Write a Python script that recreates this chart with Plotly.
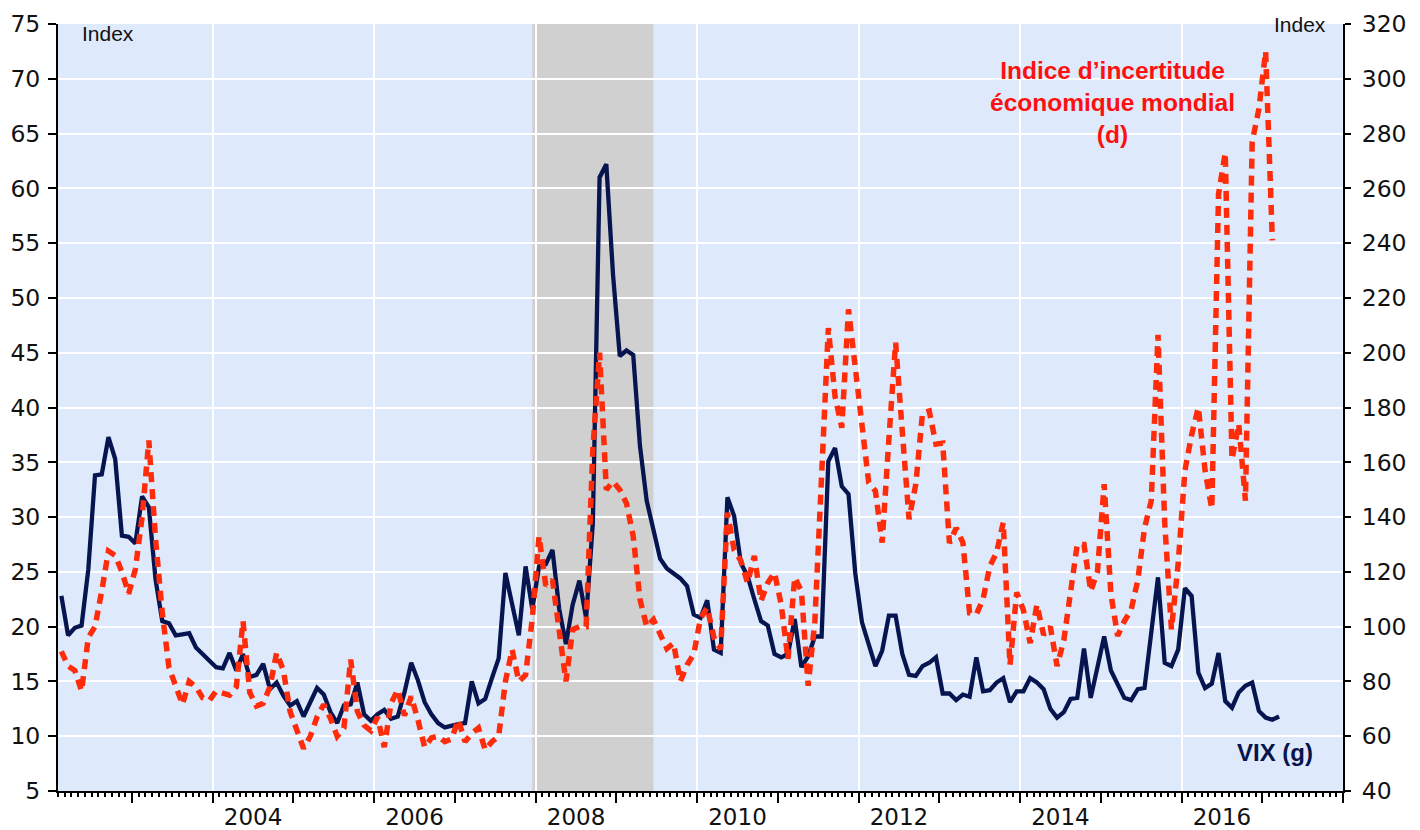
import plotly.graph_objects as go

# ---------------- data (monthly) ----------------
VIX_START = (2002, 2)      # first month of VIX series
GEPU_START = (2002, 2)     # first month of uncertainty index

vix = [
    22.8, 19.2, 19.9, 20.1, 25.2, 33.8, 33.9, 37.3, 35.3, 28.3, 28.2,
    27.6, 31.9, 30.9, 24.3, 20.5, 20.3, 19.2, 19.3, 19.4, 18.1, 17.5, 16.9,
    16.3, 16.2, 17.6, 16.0, 17.5, 15.4, 15.6, 16.6, 14.3, 14.9, 13.7, 12.8,
    13.2, 11.8, 13.2, 14.4, 13.8, 12.2, 11.2, 12.8, 12.9, 14.9, 12.0, 11.4,
    12.0, 12.4, 11.6, 11.8, 14.0, 16.7, 15.1, 13.1, 12.0, 11.2, 10.8, 11.0,
    11.1, 11.2, 15.0, 13.0, 13.4, 15.3, 17.1, 24.9, 22.0, 19.2, 25.5, 21.6,
    25.5, 25.7, 27.0, 21.6, 18.4, 22.0, 24.2, 20.8, 29.5, 61.0, 62.2, 52.1,
    44.7, 45.2, 44.8, 36.5, 31.5, 28.7, 26.2, 25.3, 24.9, 24.4, 23.7, 21.1,
    20.8, 22.4, 17.9, 17.6, 31.8, 30.1, 25.8, 24.6, 22.5, 20.5, 20.1, 17.5,
    17.2, 17.5, 20.7, 16.3, 17.3, 19.1, 19.1, 35.1, 36.3, 32.8, 32.1, 24.9,
    20.4, 18.4, 16.4, 17.8, 21.0, 21.0, 17.5, 15.6, 15.5, 16.4, 16.7, 17.2,
    13.9, 13.9, 13.3, 13.8, 13.6, 17.2, 14.1, 14.2, 14.9, 15.3, 13.1, 14.1,
    14.1, 15.3, 14.9, 14.3, 12.5, 11.7, 12.2, 13.4, 13.5, 18.0, 13.5, 16.3,
    19.1, 16.0, 14.7, 13.5, 13.3, 14.3, 14.4, 19.4, 24.5, 16.7, 16.4, 17.9,
    23.5, 22.8, 15.8, 14.4, 14.8, 17.6, 13.2, 12.6, 14.0, 14.6, 14.9, 12.3,
    11.7, 11.5, 11.8,
]

gepu = [
    91, 85.6, 84, 76.5, 96, 100, 113, 127.6, 126, 120, 112,
    121, 140, 168, 132, 105, 85, 78, 71.6, 80, 78, 74, 73,
    76.5, 76, 75, 78, 102, 76, 71, 72, 78, 90.5, 84, 69,
    62.5, 55.5, 60, 67, 71.6, 66.5, 60, 63, 88, 69, 64, 62,
    67, 56, 72, 77, 67.5, 74.5, 66, 56, 59.4, 60, 58, 59,
    66, 58, 61, 63, 55, 58, 60, 80, 91.6, 80, 82.4, 103,
    133, 115, 117, 97, 80, 99, 100, 100, 165, 200, 150, 153,
    150, 145, 133, 110, 100, 102.6, 97, 92, 94, 80, 86, 90,
    103, 107, 96, 91.7, 141.6, 128, 124, 116, 125.8, 109.4, 116, 119.7,
    108, 88, 118, 113, 78.4, 102, 155, 209, 184, 172.6, 215.8, 195,
    177, 152.6, 149.5, 130.7, 168.4, 203.7, 171, 139.2, 152, 178, 178.7, 166.6,
    167, 130.5, 136, 130.7, 105, 104.5, 110, 122, 127, 138, 86, 112.5,
    106, 94, 108, 97, 100, 85.6, 95, 112, 130, 130, 113, 120,
    152, 112, 96.6, 102, 106, 117, 136, 146, 206.5, 138, 99, 123,
    157, 170, 180, 157, 143, 258, 273, 161, 174, 146, 277, 289,
    310, 241,
]

year_labels = ["2004", "2006", "2008", "2010", "2012", "2014", "2016"]
recession = [(2007, 12), (2009, 6)]       # shaded period (first, last month)
x_range_months = [(2002, 2), (2017, 12)]  # first and last monthly slot shown

# ---------------- helpers ----------------
def slot_start(ym):
    y, m = ym
    return y + (m - 1) / 12.0

def slot_center(ym):
    return slot_start(ym) + 1 / 24.0

def series_x(start, n):
    s = slot_center(start)
    return [s + i / 12.0 for i in range(n)]

x_vix = series_x(VIX_START, len(vix))
x_gepu = series_x(GEPU_START, len(gepu))

x0 = slot_start(x_range_months[0])
x1 = slot_start(x_range_months[1]) + 1 / 12.0
xr = [x0, x1]
label_years = [int(s) for s in year_labels]
year_starts = list(range(int(x0) + 1, int(round(x1)) + 1))

NAVY = "#06154F"
RED = "#FF2C0C"
FONT = "Liberation Sans, Arial, sans-serif"
NUMFONT = "DejaVu Sans, Liberation Sans, sans-serif"

fig = go.Figure()

fig.add_trace(go.Scatter(
    x=x_vix, y=vix, mode="lines", name="VIX (g)",
    line=dict(color=NAVY, width=4.3), xaxis="x", yaxis="y",
    showlegend=False, hoverinfo="skip"))

fig.add_trace(go.Scatter(
    x=x_gepu, y=gepu, mode="lines", name="Indice d’incertitude économique mondial (d)",
    line=dict(color=RED, width=5.5, dash="10px,7px"), xaxis="x2", yaxis="y2",
    showlegend=False, hoverinfo="skip"))

fig.add_shape(type="rect", xref="x", yref="y",
              x0=slot_center(recession[0]), x1=slot_center(recession[1]),
              y0=5, y1=75, fillcolor="#D0D0D0", line=dict(width=0), layer="below")

tickfont = dict(family=NUMFONT, size=23.5, color="#111111")
xtickfont = dict(family=NUMFONT, size=23, color="#111111")

fig.update_layout(
    width=1420, height=830, autosize=False,
    margin=dict(l=50, r=85, t=16, b=47, autoexpand=False),
    paper_bgcolor="white", plot_bgcolor="#DEEAFB",
    showlegend=False,
    font=dict(family=FONT),
    xaxis=dict(
        range=xr, tickmode="array", automargin=False,
        tickvals=[y + 0.5 for y in label_years], ticktext=year_labels,
        ticks="outside", ticklen=4, tickcolor="rgba(0,0,0,0)",
        showgrid=False, zeroline=False,
        showline=True, linecolor="black", linewidth=2,
        tickfont=xtickfont,
        minor=dict(tickmode="array", tickvals=year_starts, ticks="outside",
                   ticklen=10, tickwidth=2, tickcolor="black", showgrid=False),
    ),
    xaxis2=dict(
        range=xr, overlaying="x", anchor="y2", side="bottom", automargin=False,
        tickmode="array", tickvals=label_years, showticklabels=False, ticks="",
        showgrid=True, gridcolor="white", gridwidth=1.6,
        zeroline=False, showline=False,
        minor=dict(tick0=x0, dtick=1 / 12.0, ticks="outside", ticklen=5,
                   tickwidth=1.5, tickcolor="black", showgrid=False),
    ),
    yaxis=dict(
        range=[5, 75], tick0=5, dtick=5, ticks="outside", ticklen=8,
        tickwidth=2, tickcolor="black", automargin=False, ticklabelstandoff=3,
        showline=True, linecolor="black", linewidth=2,
        showgrid=True, gridcolor="white", gridwidth=1.6, zeroline=False,
        tickfont=tickfont,
    ),
    yaxis2=dict(
        range=[40, 320], tick0=40, dtick=20, overlaying="y", side="right",
        anchor="x2", ticks="outside", ticklen=6, tickwidth=2, tickcolor="black",
        automargin=False, ticklabelstandoff=6,
        showline=True, linecolor="black", linewidth=2,
        showgrid=False, zeroline=False, tickfont=tickfont,
    ),
)

fig.add_annotation(text="Index", xref="paper", yref="paper", x=0.017, y=0.988,
                   xanchor="left", yanchor="middle", showarrow=False,
                   font=dict(family=FONT, size=21, color="#111111"))
fig.add_annotation(text="Index", xref="paper", yref="paper", x=0.9883, y=0.999,
                   xanchor="right", yanchor="middle", showarrow=False,
                   font=dict(family=FONT, size=21, color="#111111"))
fig.add_annotation(text="<b>Indice d’incertitude<br>économique mondial<br>(d)</b>",
                   xref="paper", yref="paper", x=0.821, y=0.8974,
                   xanchor="center", yanchor="middle", showarrow=False,
                   align="center", font=dict(family=FONT, size=24.5, color="#FF1010"))
fig.add_annotation(text="<b>VIX (g)</b>", xref="paper", yref="paper",
                   x=0.947, y=0.0508, xanchor="center", yanchor="middle",
                   showarrow=False, font=dict(family=FONT, size=24, color=NAVY))

fig.write_html("out.html")
